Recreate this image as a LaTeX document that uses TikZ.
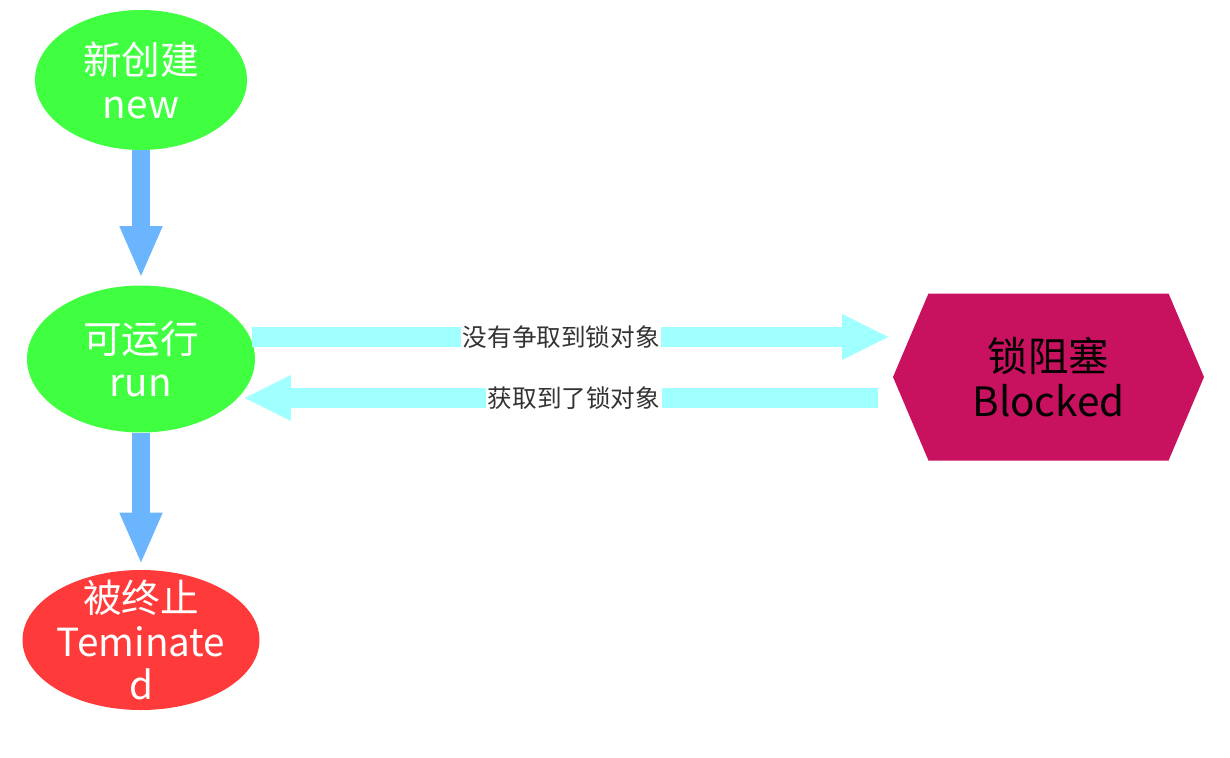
\documentclass[tikz,border=0pt]{standalone}
\usepackage{fontspec}
\setmainfont{Noto Sans CJK SC}
\usepackage{tikz}
\usetikzlibrary{arrows.meta,shapes.geometric,shapes.symbols}
\definecolor{stategreen}{HTML}{40FF40}
\definecolor{flowblue}{HTML}{6BB5FF}
\definecolor{deadred}{HTML}{FF3A3A}
\definecolor{lockpink}{HTML}{C8115F}
\definecolor{lockcyan}{HTML}{A0FFFF}

\begin{document}
\begin{tikzpicture}[
  statebox/.style={ellipse, inner sep=0pt, text=white, align=center, font=\fontsize{22}{25}\selectfont},
  stepflow/.style={draw=flowblue, line width=0.36cm, -{Triangle[width=0.78cm,length=1.04cm]}},
  lockflow/.style={draw=lockcyan, line width=0.40cm, -{Triangle[width=0.84cm,length=0.95cm]}},
  locklabel/.style={fill=white, inner sep=1pt, text=black!80, font=\fontsize{14}{16}\selectfont}]
\useasboundingbox (0,0) rectangle (24.6,-15.16);
\node[statebox, fill=stategreen, minimum width=4.24cm, minimum height=2.80cm] (new) at (2.82,-1.60) {新创建\\new};
\node[statebox, fill=stategreen, minimum width=4.56cm, minimum height=2.94cm] (run) at (2.82,-7.18) {可运行\\run};
\node[statebox, fill=deadred, minimum width=4.74cm, minimum height=2.80cm] (dead) at (2.82,-12.80) {};
\node[statebox] (deadtext) at (dead) {被终止\\Teminate\\d};
\node[signal, signal to=west and east, signal pointer angle=134, fill=lockpink, minimum width=6.22cm, minimum height=3.34cm, inner sep=0pt, align=center, font=\fontsize{23}{26}\selectfont] (blocked) at (20.97,-7.54) {锁阻塞\\Blocked};
\draw[stepflow, shorten >=0.14cm] (new.south) -- (run.north);
\draw[stepflow, shorten >=0.10cm] (run.south) -- (dead.north);
\draw[lockflow, shorten <=-0.06cm, shorten >=0.06cm] ([yshift=0.44cm]run.east) -- ([yshift=0.44cm]run.east -| blocked.west) node[locklabel, pos=0.48] (nolock) {没有争取到锁对象};
\draw[lockflow, shorten <=0.30cm, shorten >=-0.24cm] ([yshift=-0.42cm]blocked.west) -- ([yshift=-0.42cm]blocked.west -| run.east) node[locklabel, pos=0.5] (gotlock) {获取到了锁对象};
\end{tikzpicture}
\end{document}
